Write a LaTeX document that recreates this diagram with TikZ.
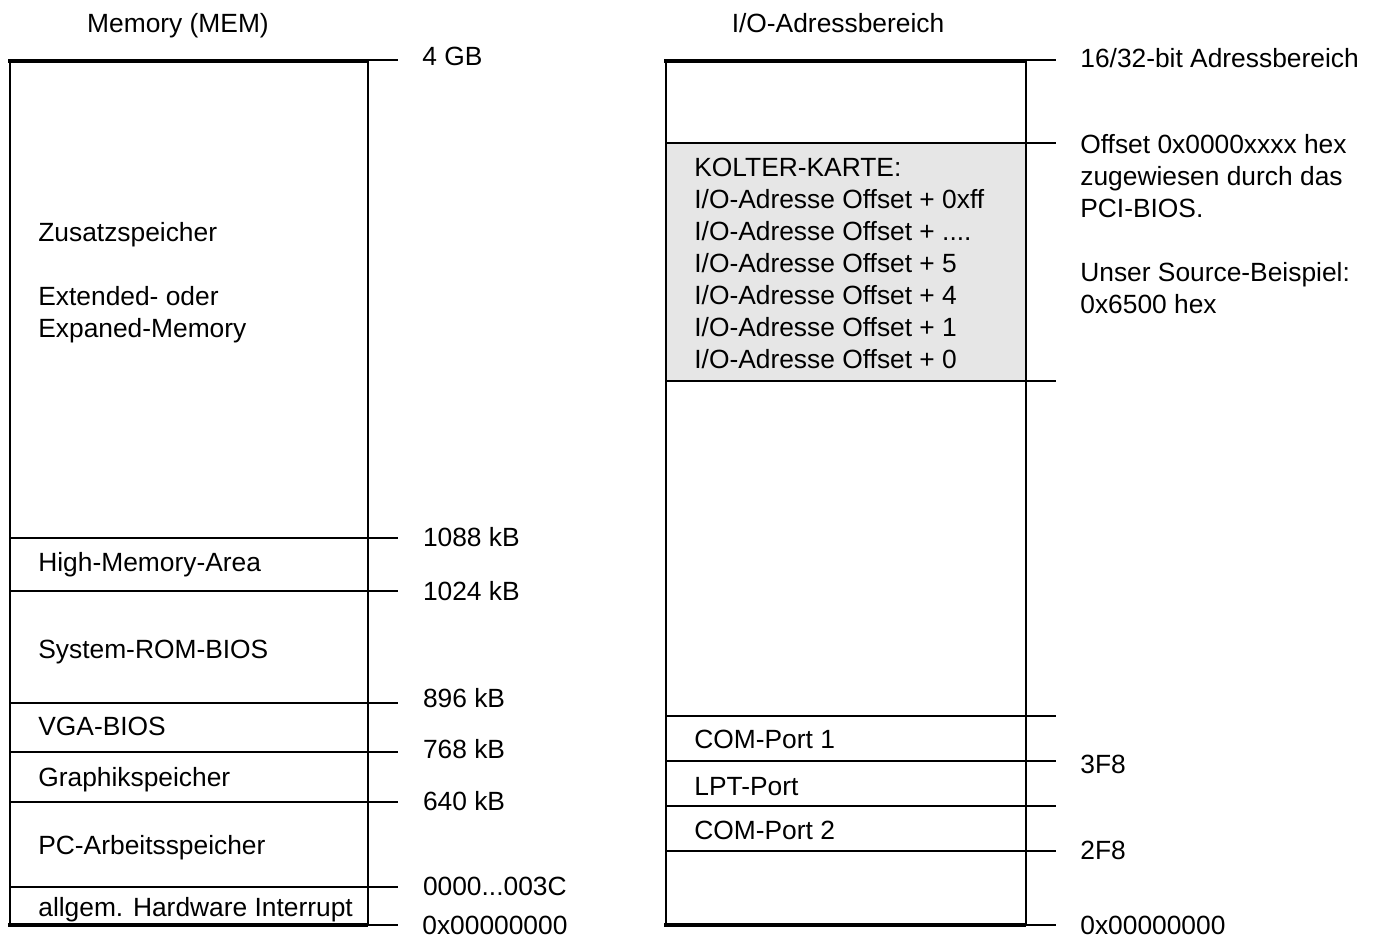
\documentclass[tikz,border=0pt]{standalone}
\usepackage{fontspec}
\setmainfont{Liberation Sans}
\usetikzlibrary{positioning}
\definecolor{kartengrau}{RGB}{230,230,230}

\begin{document}
\begin{tikzpicture}[x=0.2mm,y=-0.2mm,
		feld/.style={anchor=base west, inner sep=0pt, font=\fontsize{15}{18}\selectfont},
		titel/.style={feld, anchor=base},
		grenze/.style={line width=0.4mm},
		rand/.style={line width=0.8mm}]
	\useasboundingbox (0,0) rectangle (1378,940);
	
	% Speicher links
	\node[titel] (memtitel) at (178,33) {Memory (MEM)};
	\draw[grenze] (10,61) -- (10,925) (368,61) -- (368,925);
	\draw[rand] (8,61) -- (368,61) (8,925) -- (368,925);
	\draw[grenze] (368,60) -- (398,60) (368,925) -- (398,925);
	\node[feld] (mem4gb) at (422,66) {4 GB};
	\node[feld] (mem0) at (422,935) {0x00000000};
	\foreach \y/\ly/\lab in {538/538/1088 kB, 591/592/1024 kB, 703/699/896 kB,
			752/750/768 kB, 802/802/640 kB}
		\draw[grenze] (10,\y) -- (398,\y) node[feld] at (422,\ly+9) {\lab};
	\draw[grenze] (10,887) -- (398,887) node[feld] at (422,896) {0000...003C};
	
	\node[feld] (zusatz) at (38,242) {Zusatzspeicher};
	\node[feld] (ext1) at (38,306) {Extended- oder};
	\node[feld] (ext2) at (38,338) {Expaned-Memory};
	\node[feld] (hma) at (38,572) {High-Memory-Area};
	\node[feld] (rombios) at (38,659) {System-ROM-BIOS};
	\node[feld] (vga) at (38,736) {VGA-BIOS};
	\node[feld] (graphik) at (38,787) {Graphikspeicher};
	\node[feld] (pcmem) at (38,855) {PC-Arbeitsspeicher};
	\node[feld] (irq) at (38,917) {allgem. Hardware Interrupt};
	
	% I/O-Bereich rechts
	\node[titel] (iotitel) at (838,33) {I/O-Adressbereich};
	\fill[kartengrau] (666,143) rectangle (1026,381);
	\draw[grenze] (666,61) -- (666,925) (1026,61) -- (1026,925);
	\draw[rand] (664,61) -- (1026,61) (664,925) -- (1026,925);
	\draw[grenze] (1026,60) -- (1056,60) (1026,925) -- (1056,925);
	\node[feld] (io1632) at (1080,68) {16/32-bit Adressbereich};
	\node[feld] (io0) at (1080,935) {0x00000000};
	\foreach \y in {143,381,716,761,806,851}
		\draw[grenze] (666,\y) -- (1056,\y);
	\node[feld] (port3f8) at (1080,774) {3F8};
	\node[feld] (port2f8) at (1080,860) {2F8};
	
	% Kolter-Karte
	\node[feld] (karte1) at (694,177) {KOLTER-KARTE:};
	\node[feld] (karte2) at (694,209) {I/O-Adresse Offset + 0xff};
	\node[feld] (karte3) at (694,241) {I/O-Adresse Offset + ....};
	\node[feld] (karte4) at (694,273) {I/O-Adresse Offset + 5};
	\node[feld] (karte5) at (694,305) {I/O-Adresse Offset + 4};
	\node[feld] (karte6) at (694,337) {I/O-Adresse Offset + 1};
	\node[feld] (karte7) at (694,369) {I/O-Adresse Offset + 0};
	
	\node[feld] (offset1) at (1080,154) {Offset 0x0000xxxx hex};
	\node[feld] (offset2) at (1080,186) {zugewiesen durch das};
	\node[feld] (offset3) at (1080,218) {PCI-BIOS.};
	\node[feld] (beispiel1) at (1080,282) {Unser Source-Beispiel:};
	\node[feld] (beispiel2) at (1080,314) {0x6500 hex};
	
	\node[feld] (com1) at (694,749) {COM-Port 1};
	\node[feld] (lpt) at (694,796) {LPT-Port};
	\node[feld] (com2) at (694,840) {COM-Port 2};
\end{tikzpicture}
\end{document}
